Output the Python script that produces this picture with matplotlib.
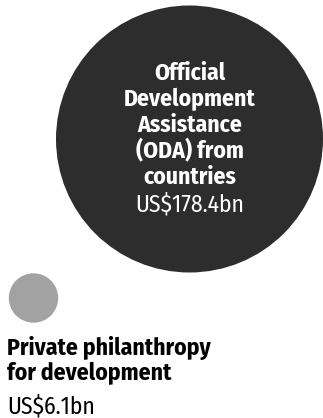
import numpy as np
import matplotlib
matplotlib.use("Agg")
import matplotlib.pyplot as plt
from matplotlib.patches import Circle

# Development finance flows, US$ billions
labels = ["Official\nDevelopment\nAssistance\n(ODA) from\ncountries", "Private philanthropy\nfor development"]
values = [178.4, 6.1]
value_labels = ["US$178.4bn", "US$6.1bn"]
colors = ["#2d2d2d", "#a2a2a2"]

FONT = ["Fira Sans Condensed", "DejaVu Sans"]
FS = 17

fig = plt.figure(figsize=(3.23, 4.18), dpi=100)
ax = fig.add_axes([0, 0, 1, 1])
ax.set_xlim(0, 323)
ax.set_ylim(418, 0)
ax.set_aspect("equal")
ax.axis("off")

# circle area proportional to value
scale = 133.5 / np.sqrt(values[0])
radii = [scale * np.sqrt(v) for v in values]
centers = [(189.5, 139), (33.5, 298)]

for (cx, cy), r, c in zip(centers, radii, colors):
    ax.add_patch(Circle((cx, cy), r, color=c, lw=0))

# label inside the big circle, one line at a time
big_x = centers[0][0]
for i, line in enumerate(labels[0].split("\n")):
    ax.text(big_x, 80 + i * 26.1, line, ha="center", va="baseline", color="white",
            fontsize=FS, fontweight="bold", family=FONT)
ax.text(big_x, 211.5, value_labels[0], ha="center", va="baseline", color="white",
        fontsize=FS, family=FONT)

# label under the small circle
for i, line in enumerate(labels[1].split("\n")):
    ax.text(7, 355 + i * 25, line, ha="left", va="baseline", color="black",
            fontsize=FS, fontweight="bold", family=FONT)
ax.text(7, 413.5, value_labels[1], ha="left", va="baseline", color="black",
        fontsize=FS, family=FONT)

fig.savefig("out.png", dpi=100)
